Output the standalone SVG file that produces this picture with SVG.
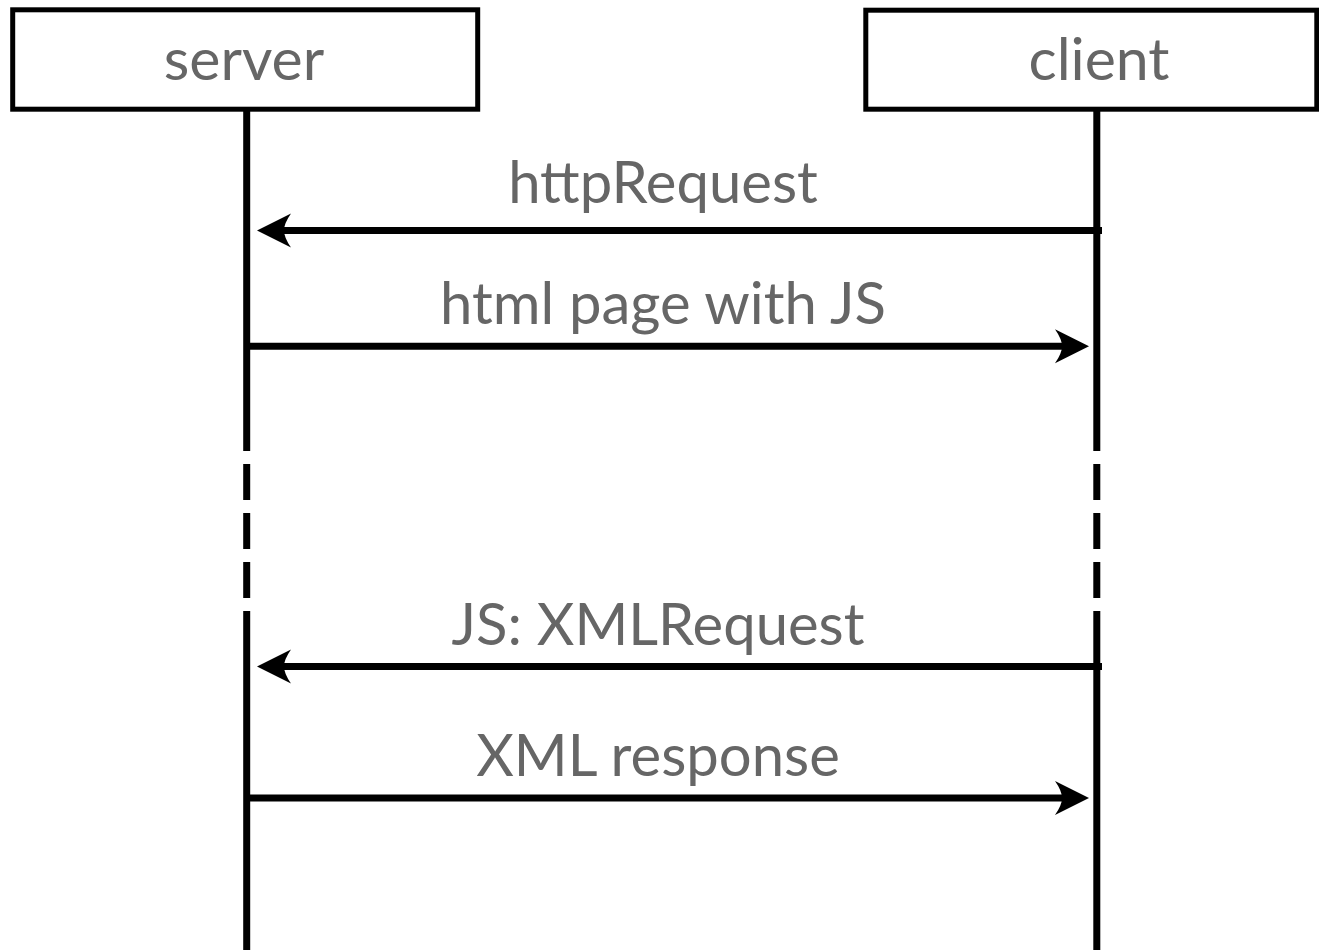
<svg xmlns="http://www.w3.org/2000/svg" xmlns:xlink="http://www.w3.org/1999/xlink" width="1319" height="950" viewBox="0 0 1319 950">
  <style>
    .box { fill: #ffffff; stroke: #000000; stroke-width: 5; }
    .life { stroke: #000000; stroke-width: 7; fill: none; }
    .dash { stroke-dasharray: 36 13; }
    .msg { stroke: #000000; stroke-width: 7; fill: none; }
    .head { fill: #000000; }
    text { font-family: "Lato", "Liberation Sans", sans-serif; fill: #666666; text-anchor: middle; }
    .lbl { font-size: 59px; }
    .mlbl { font-size: 58px; }
  </style>
  <defs>
    <!-- arrowhead pointing right, tip at origin -->
    <path id="head" class="head" d="M0,0 L-34,-17 Q-27,-7 -27,0 Q-27,7 -34,17 Z"/>
  </defs>
  <rect width="1319" height="950" fill="#ffffff"/>

  <!-- lifelines -->
  <g id="lifelines">
    <line class="life" x1="246.7" y1="110" x2="246.7" y2="451"/>
    <line class="life dash" x1="246.7" y1="464" x2="246.7" y2="598"/>
    <line class="life" x1="246.7" y1="611" x2="246.7" y2="950"/>
    <line class="life" x1="1096.8" y1="110" x2="1096.8" y2="451"/>
    <line class="life dash" x1="1096.8" y1="464" x2="1096.8" y2="598"/>
    <line class="life" x1="1096.8" y1="611" x2="1096.8" y2="950"/>
  </g>

  <g id="server">
    <rect class="box" x="12.7" y="9.8" width="465" height="99.4"/>
    <text class="lbl" x="244" y="80">server</text>
  </g>

  <g id="client">
    <rect class="box" x="865.8" y="10.2" width="451" height="99"/>
    <text class="lbl" x="1099" y="80">client</text>
  </g>

  <!-- messages -->
  <g id="connectors">
    <g id="msg-httpRequest">
      <line class="msg" x1="1102" y1="230.5" x2="280" y2="230.5"/>
      <use xlink:href="#head" transform="translate(257,230.5) rotate(180)"/>
      <text class="mlbl" x="663" y="203">httpRequest</text>
    </g>
    <g id="msg-html">
      <line class="msg" x1="245" y1="346.3" x2="1066" y2="346.3"/>
      <use xlink:href="#head" transform="translate(1089,346.3)"/>
      <text class="mlbl" x="663" y="324">html page with JS</text>
    </g>
    <g id="msg-xmlrequest">
      <line class="msg" x1="1102" y1="666.5" x2="280" y2="666.5"/>
      <use xlink:href="#head" transform="translate(257,666.5) rotate(180)"/>
      <text class="mlbl" x="658" y="645">JS: XMLRequest</text>
    </g>
    <g id="msg-xmlresponse">
      <line class="msg" x1="245" y1="798" x2="1066" y2="798"/>
      <use xlink:href="#head" transform="translate(1089,798)"/>
      <text class="mlbl" x="658" y="776">XML response</text>
    </g>
  </g>
</svg>
